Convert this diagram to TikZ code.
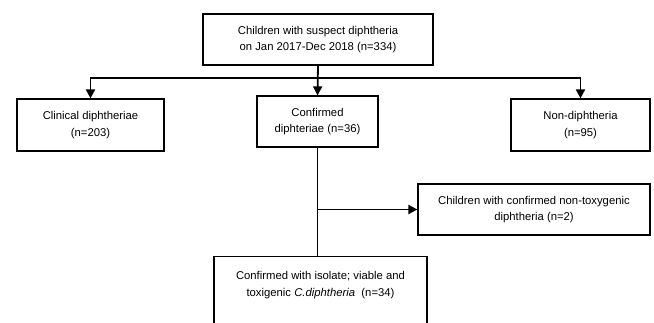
\documentclass[tikz,border=0pt]{standalone}
\usepackage{fontspec}
\setmainfont{Liberation Sans}
\usetikzlibrary{arrows.meta}
\begin{document}
\begin{tikzpicture}[x=1pt,y=-1pt,
  box/.style={draw=black, line width=1.2pt, fill=white, inner sep=0pt, align=center,
    font=\fontsize{11.3}{16.5}\selectfont},
  conn/.style={line width=1.8pt},
  arr/.style={conn, -{Triangle[length=9pt,width=9pt]}}]
\useasboundingbox (0,0) rectangle (654,323);
\clip (0,0) rectangle (654,323);
\fill[white] (0,0) rectangle (654,323);
\node[box, minimum width=230, minimum height=51] (top) at (318,39.5)
  {Children with suspect diphtheria\\on Jan 2017-Dec 2018 (n=334)};
\node[box, minimum width=147, minimum height=52] (clin) at (90.5,125)
  {Clinical diphtheriae\\(n=203)};
\node[box, minimum width=121, minimum height=51] (conf) at (317.5,121.5)
  {Confirmed\\diphteriae (n=36)};
\node[box, minimum width=139, minimum height=52] (non) at (580.5,125)
  {Non-diphtheria\\(n=95)};
\node[box, minimum width=232, minimum height=51] (ntx) at (534,209.5)
  {Children with confirmed non-toxygenic\\diphtheria (n=2)};
\node[box, minimum width=213, minimum height=100, anchor=north] (bot) at (320.5,256) {};
\node[box, draw=none, fill=none] (bottxt) at (320.5,285)
  {Confirmed with isolate; viable and\\toxigenic \textit{C.diphtheria}~~(n=34)};
\coordinate (hl) at (0,78);
\draw[arr] (top.south) -- (conf.north);
\draw[arr] (hl -| top.south) -| (clin.north);
\draw[arr] (hl -| top.south) -| (non.north);
\draw[conn] (conf.south) -- (conf.south |- bot.north);
\draw[arr] (conf.south |- ntx.west) -- (ntx.west);
\end{tikzpicture}
\end{document}
